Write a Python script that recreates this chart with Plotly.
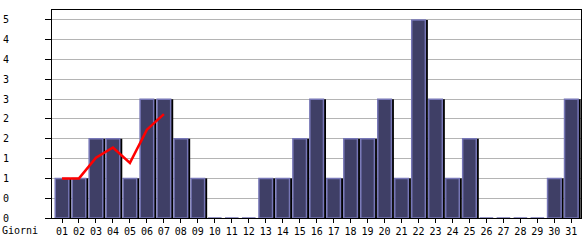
import plotly.graph_objects as go

days = [f"{d:02d}" for d in range(1, 32)]
visits = [1, 1, 2, 2, 1, 3, 3, 2, 1, 0, 0, 0, 1, 1, 2, 3, 1, 2, 2, 3, 1, 5, 3, 1, 2, 0, 0, 0, 0, 1, 3]
trend_days = days[:7]
trend_values = [1, 1, 1.52, 1.78, 1.39, 2.23, 2.62]
ytick_vals = [0, 0.5, 1, 1.5, 2, 2.5, 3, 3.5, 4, 4.5, 5]
ytick_text = ["0", "0", "1", "1", "2", "2", "3", "3", "4", "4", "5"]

xpos = list(range(1, 32))
tx = list(range(1, 8))

FONT = "DejaVu Sans Mono"
W = 0.80

fig = go.Figure()
# shadow
fig.add_trace(go.Bar(x=xpos, y=visits, width=W, offset=-W / 2 + 0.15,
                     marker=dict(color="#000000", line=dict(width=0)),
                     hoverinfo="skip", showlegend=False))
# main bars
fig.add_trace(go.Bar(x=xpos, y=visits, width=W, offset=-W / 2,
                     marker=dict(color="#3f3f66", line=dict(color="#7676b6", width=1.5)),
                     showlegend=False))
fig.add_trace(go.Scatter(x=tx, y=trend_values, mode="lines",
                         line=dict(color="#ff0000", width=2.5),
                         showlegend=False))

fig.update_layout(
    width=585, height=240,
    margin=dict(l=52, r=3, t=10, b=20),
    paper_bgcolor="white", plot_bgcolor="white",
    barmode="overlay",
    font=dict(family=FONT, size=10, color="#000000"),
    xaxis=dict(range=[0.41, 31.57], tickvals=xpos, ticktext=days,
               showgrid=False, zeroline=False,
               showline=True, linecolor="black", linewidth=1, mirror=True,
               ticks="outside", ticklen=4, tickcolor="black",
               tickfont=dict(family=FONT, size=10)),
    yaxis=dict(range=[0, 5.25], tickvals=ytick_vals, ticktext=ytick_text,
               showgrid=True, gridcolor="#b4b4b4", gridwidth=1, zeroline=False,
               showline=True, linecolor="black", linewidth=1, mirror=True,
               ticks="outside", ticklen=6, tickcolor="black",
               ticklabelstandoff=34,
               tickfont=dict(family=FONT, size=10)),
    annotations=[dict(text="Giorni", xref="paper", yref="paper",
                      x=-52 / 530, y=0, xanchor="left", yanchor="top",
                      yshift=-5, showarrow=False,
                      font=dict(family=FONT, size=10))],
)

fig.write_html("out.html")
